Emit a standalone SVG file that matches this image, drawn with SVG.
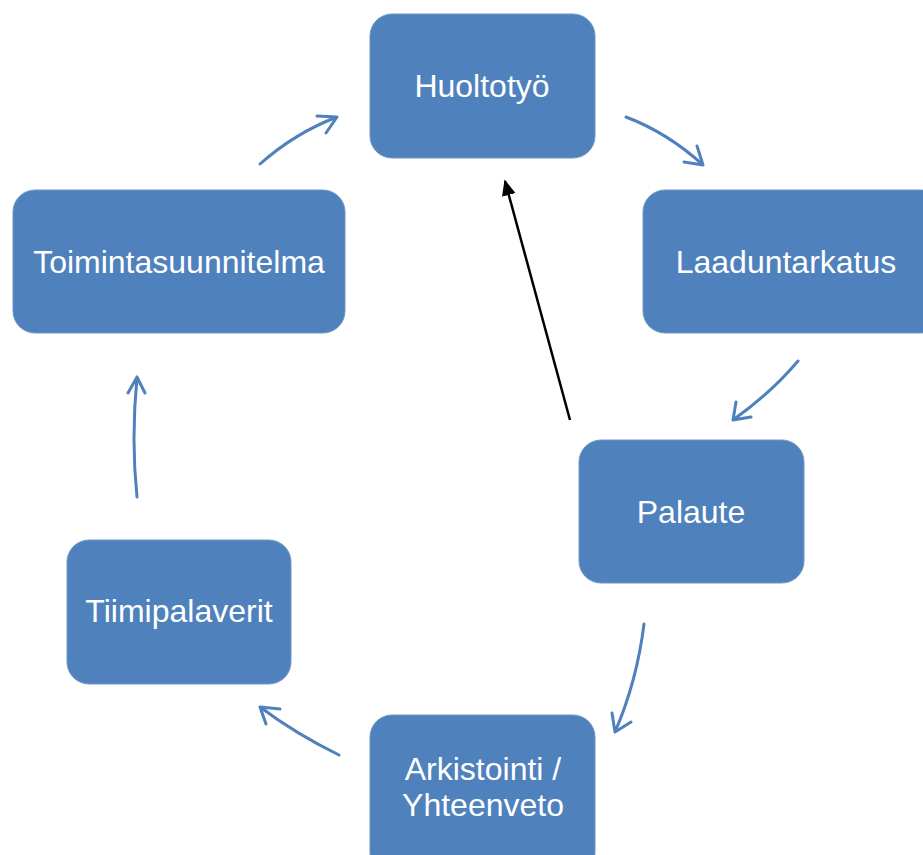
<svg xmlns="http://www.w3.org/2000/svg" width="923" height="855" viewBox="0 0 923 855">
<defs>
<style>
.box{fill:#4F81BD;stroke:#6F97C8;stroke-width:1}
.lbl{fill:#fff;font-family:"Liberation Sans",Arial,sans-serif;font-size:32px;text-anchor:middle}
.cyc{fill:none;stroke:#4F81BD;stroke-width:3;stroke-linecap:round;stroke-linejoin:round}
</style>
<marker id="blk" viewBox="0 0 10 10" refX="9" refY="5" markerWidth="16" markerHeight="14" markerUnits="userSpaceOnUse" orient="auto" preserveAspectRatio="none">
<path d="M0,0 L10,5 L0,10 z" fill="#000"/>
</marker>
</defs>
<rect width="923" height="855" fill="#fff"/>
<g id="huoltotyo"><rect class="box" x="370" y="14" width="225" height="144" rx="22"/><text class="lbl" x="482" y="97">Huoltotyö</text></g>
<g id="laaduntarkatus"><rect class="box" x="643" y="190" width="300" height="143" rx="22"/><text class="lbl" x="786" y="273">Laaduntarkatus</text></g>
<g id="palaute"><rect class="box" x="579" y="440" width="225" height="143" rx="22"/><text class="lbl" x="691" y="523">Palaute</text></g>
<g id="arkistointi"><rect class="box" x="370" y="715" width="225" height="160" rx="22"/><text class="lbl" x="483" y="780">Arkistointi /</text><text class="lbl" x="483" y="816">Yhteenveto</text></g>
<g id="tiimipalaverit"><rect class="box" x="67" y="540" width="224" height="144" rx="22"/><text class="lbl" x="179" y="622">Tiimipalaverit</text></g>
<g id="toimintasuunnitelma"><rect class="box" x="13" y="190" width="332" height="143" rx="22"/><text class="lbl" x="179" y="273">Toimintasuunnitelma</text></g>
<g id="connectors">
<path class="cyc" d="M260,164 Q295,133 337,117 M317,116 L337,117 L326,133"/>
<path class="cyc" d="M626,117 Q668,133 703,165 M684,162 L703,165 L697,146"/>
<path class="cyc" d="M798,361 Q771,393 733,420 M736,402 L733,420 L751,417"/>
<path class="cyc" d="M644,624 Q637,681 615,732 M612,713 L615,732 L631,722"/>
<path class="cyc" d="M339,755 Q296,734 260,707 M280,709 L260,707 L266,724"/>
<path class="cyc" d="M137,497 Q131,440 137,377 M128,393 L137,377 L145,393"/>
<line x1="570" y1="420" x2="505" y2="181" stroke="#000" stroke-width="2.5" marker-end="url(#blk)"/>
</g>
</svg>
